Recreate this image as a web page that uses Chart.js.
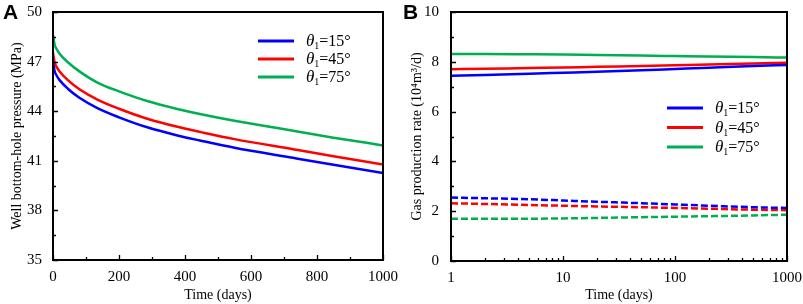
<!DOCTYPE html>
<html>
<head>
<meta charset="utf-8">
<script src="https://cdn.jsdelivr.net/npm/chart.js@4.4.1/dist/chart.umd.min.js"></script>
<style>
  body { margin: 0; background: #fff; width: 803px; height: 304px; position: relative; overflow: hidden; }
  .box { position: absolute; top: 0; height: 304px; }
  .lbl { position: absolute; top: 0; font: bold 21px "Liberation Sans", Arial, sans-serif; color: #000; }
</style>
</head>
<body>
<div class="box" style="left:0;width:400px"><canvas id="chartA"></canvas></div>
<div class="box" style="left:400px;width:403px"><canvas id="chartB"></canvas></div>
<div class="lbl" style="left:3px">A</div>
<div class="lbl" style="left:403px">B</div>
<script>
// panel A data
const daysA = [0, 5, 10, 20, 45, 80, 136, 200, 288, 380, 445, 550, 727, 850, 1000];
const bhp15 = [47.0, 46.42, 46.19, 45.88, 45.36, 44.81, 44.17, 43.63, 43.01, 42.52, 42.23, 41.79, 41.18, 40.76, 40.26];
const bhp45 = [47.52, 46.94, 46.71, 46.4, 45.88, 45.33, 44.69, 44.15, 43.53, 43.04, 42.75, 42.31, 41.7, 41.28, 40.78];
const bhp75 = [48.6, 48.02, 47.79, 47.48, 46.96, 46.41, 45.72, 45.2, 44.6, 44.12, 43.83, 43.42, 42.82, 42.4, 41.93];

// panel B data (solid and dashed curves)
const daysB = [1, 2, 5, 10, 20, 50, 100, 200, 500, 1000];
const rate15 = [7.44, 7.47, 7.52, 7.56, 7.6, 7.66, 7.71, 7.76, 7.83, 7.87];
const rate45 = [7.70, 7.72, 7.75, 7.77, 7.8, 7.83, 7.86, 7.89, 7.93, 7.96];
const rate75 = [8.31, 8.31, 8.30, 8.29, 8.27, 8.25, 8.23, 8.21, 8.19, 8.17];
const rate15d = [2.55, 2.52, 2.48, 2.43, 2.38, 2.32, 2.27, 2.22, 2.16, 2.13];
const rate45d = [2.32, 2.29, 2.25, 2.22, 2.19, 2.16, 2.13, 2.10, 2.06, 2.04];
const rate75d = [1.70, 1.70, 1.70, 1.71, 1.73, 1.76, 1.78, 1.80, 1.83, 1.86];

const angles = [15, 45, 75];
const colors = ['#0000ff', '#ff0000', '#00b050'];

const pressureTicks = [35, 38, 41, 44, 47, 50];
const timeTicksA = [0, 200, 400, 600, 800, 1000];
const rateTicks = [0, 2, 4, 6, 8, 10];
const timeTicksB = [1, 10, 100, 1000];

const serif = '"Liberation Serif", "Times New Roman", serif';

function pts(xs, ys) {
  return xs.map((x, i) => ({ x: x, y: ys[i] }));
}

// box, inward ticks and legend
const frame = {
  id: 'frame',
  afterDraw(chart, args, opts) {
    const { ctx, chartArea: a, scales } = chart;
    ctx.save();
    ctx.strokeStyle = '#000';
    ctx.lineWidth = 1.3;
    ctx.beginPath();
    opts.xTicks.forEach(t => {
      const px = Math.round(scales.x.getPixelForValue(t[0])) + 0.5;
      ctx.moveTo(px, a.bottom);
      ctx.lineTo(px, a.bottom - t[1]);
    });
    opts.yTicks.forEach(t => {
      const py = Math.round(scales.y.getPixelForValue(t[0])) + 0.5;
      ctx.moveTo(a.left, py);
      ctx.lineTo(a.left + t[1], py);
    });
    ctx.stroke();
    ctx.lineWidth = 2;
    ctx.strokeRect(a.left, a.top, a.right - a.left, a.bottom - a.top);

    // legend
    const lg = opts.legend;
    angles.forEach((ang, i) => {
      const y = lg.y + i * lg.gap;
      ctx.strokeStyle = colors[i];
      ctx.lineWidth = 3;
      ctx.beginPath();
      ctx.moveTo(lg.x, y);
      ctx.lineTo(lg.x + 36, y);
      ctx.stroke();
      ctx.fillStyle = '#000';
      ctx.textBaseline = 'alphabetic';
      let tx = lg.x + 48;
      const base = y + 5;
      ctx.font = 'italic 17px ' + serif;
      ctx.fillText('\u03b8', tx, base);
      tx += ctx.measureText('\u03b8').width;
      ctx.font = '10px ' + serif;
      ctx.fillText('1', tx, base + 3);
      tx += ctx.measureText('1').width;
      ctx.font = '16px ' + serif;
      ctx.fillText('=' + ang + '\u00b0', tx, base);
    });
    ctx.restore();
  }
};

function axisTitle(text, vertical) {
  return {
    display: true,
    text: text,
    color: '#000',
    font: { family: serif, size: 14 },
    padding: vertical ? { top: 9, bottom: 0 } : { top: 0, bottom: 0 }
  };
}

function fixedTicks(arr) {
  return function (scale) { scale.ticks = arr.map(v => ({ value: v })); };
}

function fitX(h) {
  return function (s) { s.height = h; s.paddingLeft = 0; s.paddingRight = 0; };
}
function fitY(w) {
  return function (s) { s.width = w; s.paddingTop = 0; s.paddingBottom = 0; };
}

const tickFont = { family: serif, size: 15 };
const noGrid = { display: false, drawTicks: false };

// minor/major tick lists
const ticksXA = [];
for (let v = 0; v <= 1000; v += 100) ticksXA.push([v, v % 200 === 0 ? 5 : 3]);
const ticksYA = [];
for (let v = 35; v <= 50; v += 1.5) ticksYA.push([v, (v - 35) % 3 === 0 ? 5 : 3]);
const ticksXB = [];
[1, 10, 100].forEach(d => { for (let k = 1; k < 10; k++) ticksXB.push([d * k, k === 1 ? 5 : 3]); });
ticksXB.push([1000, 5]);
const ticksYB = [];
for (let v = 0; v <= 10; v += 1) ticksYB.push([v, v % 2 === 0 ? 5 : 3]);

new Chart(document.getElementById('chartA'), {
  type: 'scatter',
  data: {
    datasets: [bhp15, bhp45, bhp75].map((ys, i) => ({
      data: pts(daysA, ys),
      showLine: true,
      borderColor: colors[i],
      borderWidth: 2.5,
      pointRadius: 0,
      cubicInterpolationMode: 'monotone'
    }))
  },
  options: {
    responsive: true,
    maintainAspectRatio: false,
    animation: false,
    layout: { padding: { left: 0, right: 17, top: 12, bottom: 0 } },
    plugins: {
      legend: { display: false },
      tooltip: { enabled: false },
      frame: { xTicks: ticksXA, yTicks: ticksYA, legend: { x: 258, y: 41, gap: 18 } }
    },
    scales: {
      x: {
        type: 'linear', min: 0, max: 1000,
        grid: noGrid, border: { display: false },
        afterBuildTicks: fixedTicks(timeTicksA),
        afterFit: fitX(44),
        ticks: { color: '#000', font: tickFont, padding: 8, maxRotation: 0, callback: v => String(v) },
        title: axisTitle('Time (days)', false)
      },
      y: {
        min: 35, max: 50,
        grid: noGrid, border: { display: false },
        afterBuildTicks: fixedTicks(pressureTicks),
        afterFit: fitY(53),
        ticks: { color: '#000', font: tickFont, padding: 11 },
        title: axisTitle('Well bottom-hole pressure (MPa)', true)
      }
    }
  },
  plugins: [frame]
});

const setsB = [rate15, rate45, rate75, rate15d, rate45d, rate75d];

new Chart(document.getElementById('chartB'), {
  type: 'scatter',
  data: {
    datasets: setsB.map((ys, i) => ({
      data: pts(daysB, ys),
      showLine: true,
      borderColor: colors[i % 3],
      borderWidth: 2.5,
      borderDash: i > 2 ? [7, 3] : [],
      pointRadius: 0,
      cubicInterpolationMode: 'monotone'
    }))
  },
  options: {
    responsive: true,
    maintainAspectRatio: false,
    animation: false,
    layout: { padding: { left: 0, right: 16, top: 12, bottom: 0 } },
    plugins: {
      legend: { display: false },
      tooltip: { enabled: false },
      frame: { xTicks: ticksXB, yTicks: ticksYB, legend: { x: 267, y: 108, gap: 19.5 } }
    },
    scales: {
      x: {
        type: 'logarithmic', min: 1, max: 1000,
        grid: noGrid, border: { display: false },
        afterBuildTicks: fixedTicks(timeTicksB),
        afterFit: fitX(43),
        ticks: { color: '#000', font: tickFont, padding: 8, maxRotation: 0, callback: v => String(v) },
        title: axisTitle('Time (days)', false)
      },
      y: {
        min: 0, max: 10,
        grid: noGrid, border: { display: false },
        afterBuildTicks: fixedTicks(rateTicks),
        afterFit: fitY(51),
        ticks: { color: '#000', font: tickFont, padding: 12 },
        title: axisTitle('Gas production rate (10\u2074m\u00b3/d)', true)
      }
    }
  },
  plugins: [frame]
});
</script>
</body>
</html>
